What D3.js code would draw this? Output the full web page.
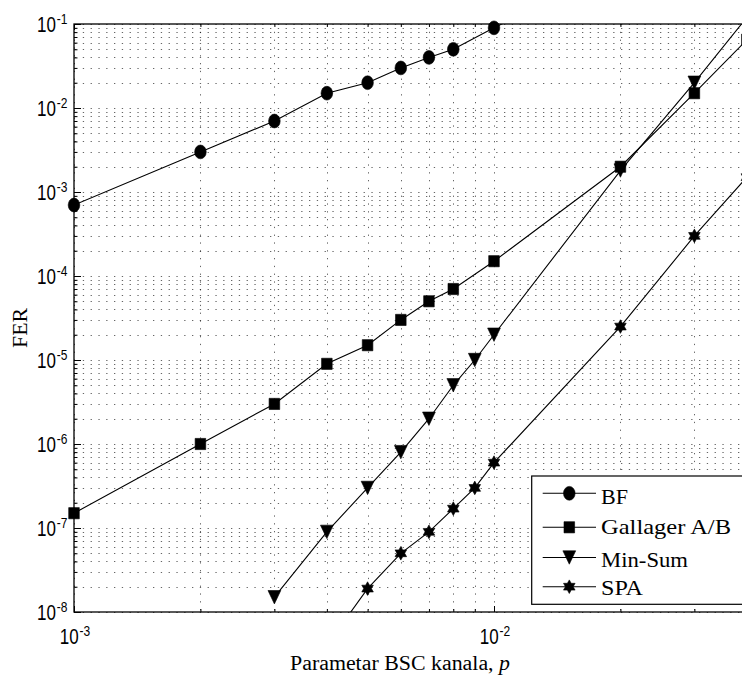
<!DOCTYPE html>
<html>
<head>
<meta charset="utf-8">
<script src="https://cdn.jsdelivr.net/npm/d3@7"></script>
<style>
  html, body { margin: 0; padding: 0; background: #fff; }
  svg { display: block; }
  .serif { font-family: "Liberation Serif", "DejaVu Serif", "Noto Serif", "Times New Roman", serif; }
  .sans { font-family: "Liberation Sans", Arial, Helvetica, sans-serif; }
</style>
</head>
<body>
<svg id="chart" width="742" height="680"></svg>
<script>
// Channel crossover probability p and frame error rate for each decoder
const pBF  = [0.001, 0.002, 0.003, 0.004, 0.005, 0.006, 0.007, 0.008, 0.01, 0.02];
const ferBF = [7e-4, 3e-3, 7e-3, 1.5e-2, 2e-2, 3e-2, 4e-2, 5e-2, 9e-2, 0.5];

const pGal  = [0.001, 0.002, 0.003, 0.004, 0.005, 0.006, 0.007, 0.008, 0.01, 0.02, 0.03, 0.04];
const ferGal = [1.5e-7, 1e-6, 3e-6, 9e-6, 1.5e-5, 3e-5, 5e-5, 7e-5, 1.5e-4, 2e-3, 1.5e-2, 6.5e-2];

const pMS  = [0.003, 0.004, 0.005, 0.006, 0.007, 0.008, 0.009, 0.01, 0.02, 0.03, 0.04];
const ferMS = [1.5e-8, 9e-8, 3e-7, 8e-7, 2e-6, 5e-6, 1e-5, 2e-5, 1.8e-3, 2e-2, 1.2e-1];

const pSPA  = [0.004, 0.005, 0.006, 0.007, 0.008, 0.009, 0.01, 0.02, 0.03, 0.04];
const ferSPA = [4e-9, 1.9e-8, 5e-8, 9e-8, 1.7e-7, 3e-7, 6e-7, 2.5e-5, 3e-4, 1.5e-3];

const seriesNames = ["BF", "Gallager A/B", "Min-Sum", "SPA"];
const seriesMarkers = ["circle", "square", "triangle", "hexagram"];

// Axis limits and decade exponents used for the tick labels
const xLimits = [1e-3, 4e-2];
const yLimits = [1e-8, 1e-1];
const xLabelExps = [-3, -2];
const yLabelExps = [-8, -7, -6, -5, -4, -3, -2, -1];

const xTitle = "Parametar BSC kanala, ";
const xTitleVar = "p";
const yTitle = "FER";

(function () {
const svg = d3.select("#chart");
const plotLeft = 74, plotTop = 24, plotBottom = 612;
const decadePx = 420;
const plotRight = plotLeft + decadePx * Math.log10(xLimits[1] / xLimits[0]);

const x = d3.scaleLog().domain(xLimits).range([plotLeft, plotRight]);
const y = d3.scaleLog().domain(yLimits).range([plotBottom, plotTop]);

svg.append("defs").append("clipPath").attr("id", "plotClip")
  .append("rect").attr("x", plotLeft).attr("y", plotTop)
  .attr("width", plotRight - plotLeft).attr("height", plotBottom - plotTop);

// Dotted grid at every major and minor tick
const xGrid = x.ticks();
const yGrid = y.ticks();
const grid = svg.append("g").attr("stroke", "#000").attr("stroke-width", 1)
  .attr("stroke-opacity", 0.6).attr("fill", "none");
grid.selectAll("line.h").data(yGrid).join("line").attr("class", "h")
  .attr("x1", plotLeft + 1).attr("x2", plotRight)
  .attr("y1", d => Math.round(y(d)) + 0.5).attr("y2", d => Math.round(y(d)) + 0.5)
  .attr("stroke-dasharray", "1.3,6.5");
grid.selectAll("line.v").data(xGrid).join("line").attr("class", "v")
  .attr("y1", plotTop).attr("y2", plotBottom)
  .attr("x1", d => Math.round(x(d)) + 0.5).attr("x2", d => Math.round(x(d)) + 0.5)
  .attr("stroke-dasharray", "1.3,6.5");

// Inward ticks on all framed sides
const isDecade = v => Math.abs(Math.log10(v) - Math.round(Math.log10(v))) < 1e-9;
function tickAxis(axisFn, scale, vals, size, transform) {
  svg.append("g").attr("transform", transform)
    .call(axisFn(scale).tickValues(vals).tickSize(size).tickSizeOuter(0).tickFormat(""))
    .call(g => g.select(".domain").remove())
    .call(g => g.selectAll("line").attr("stroke", "#000").attr("stroke-width", 1));
}
const yMajor = yGrid.filter(isDecade), yMinor = yGrid.filter(v => !isDecade(v));
const xMajor = xGrid.filter(isDecade), xMinor = xGrid.filter(v => !isDecade(v));
tickAxis(d3.axisLeft, y, yMajor, -7, `translate(${plotLeft},0)`);
tickAxis(d3.axisLeft, y, yMinor, -3.5, `translate(${plotLeft},0)`);
tickAxis(d3.axisBottom, x, xMajor, -6, `translate(0,${plotBottom})`);
tickAxis(d3.axisBottom, x, xMinor, -3, `translate(0,${plotBottom})`);
tickAxis(d3.axisTop, x, xMajor, -6, `translate(0,${plotTop})`);
tickAxis(d3.axisTop, x, xMinor, -3, `translate(0,${plotTop})`);

// Axes frame
svg.append("rect").attr("x", plotLeft).attr("y", plotTop)
  .attr("width", plotRight - plotLeft).attr("height", plotBottom - plotTop)
  .attr("fill", "none").attr("stroke", "#000").attr("stroke-width", 1.3);

// Power-of-ten tick labels
function powLabel(px, py, exp, anchor) {
  const sy = 1.27;
  const g = svg.append("g").attr("transform", `translate(${px},${py}) scale(1,${sy})`);
  const t = g.append("text").attr("class", "sans").attr("text-anchor", anchor)
    .style("font-size", "17px").attr("fill", "#000");
  t.append("tspan").text("10");
  t.append("tspan").attr("dy", -8 / sy).attr("dx", 1).style("font-size", "12px").text(String(exp));
}
yLabelExps.forEach(e => powLabel(67.5, y(Math.pow(10, e)) + 8, e, "end"));
xLabelExps.forEach(e => powLabel(x(Math.pow(10, e)) + 1, 644, e, "middle"));

// Serif text fitted to a set width
function fitWidth(sel, w) {
  sel.attr("textLength", w).attr("lengthAdjust", "spacingAndGlyphs");
}
const xt = svg.append("text").attr("class", "serif").attr("x", 400).attr("y", 670)
  .attr("text-anchor", "middle").style("font-size", "20px");
xt.append("tspan").text(xTitle);
xt.append("tspan").style("font-style", "italic").text(xTitleVar);
fitWidth(xt, 220);

const yt = svg.append("text").attr("class", "serif")
  .attr("transform", "translate(26.5,328) rotate(-90)")
  .attr("text-anchor", "middle").style("font-size", "20px")
  .text(yTitle);
fitWidth(yt, 40);

// Marker shapes
function markerPath(kind, cx, cy) {
  if (kind === "square") {
    const w = 5.3, h = 5.6;
    return `M${cx - w},${cy - h}H${cx + w}V${cy + h}H${cx - w}Z`;
  }
  if (kind === "triangle") {
    const w = 6.4, h = 6.7;
    return `M${cx - w},${cy - h}L${cx + w},${cy - h}L${cx},${cy + h}Z`;
  }
  if (kind === "hexagram") {
    const rx = 5.8, ry = 6.8, pts = [];
    for (let i = 0; i < 12; i++) {
      const a = -Math.PI / 2 + i * Math.PI / 6;
      const r = i % 2 === 0 ? 1 : 1 / Math.sqrt(3);
      pts.push([cx + rx * r * Math.cos(a) / Math.cos(Math.PI / 6), cy + ry * r * Math.sin(a)]);
    }
    return "M" + pts.map(p => p.join(",")).join("L") + "Z";
  }
  // circle (drawn slightly taller than wide)
  const rx = 5.8, ry = 6.9;
  return `M${cx - rx},${cy}A${rx},${ry} 0 1,0 ${cx + rx},${cy}A${rx},${ry} 0 1,0 ${cx - rx},${cy}Z`;
}

const series = [
  { p: pBF, f: ferBF },
  { p: pGal, f: ferGal },
  { p: pMS, f: ferMS },
  { p: pSPA, f: ferSPA }
];

const lineGen = d3.line().x(d => x(d[0])).y(d => y(d[1]));
const plot = svg.append("g");
series.forEach((s, i) => {
  const pts = s.p.map((p, j) => [p, s.f[j]]);
  plot.append("path").attr("d", lineGen(pts)).attr("clip-path", "url(#plotClip)")
    .attr("fill", "none").attr("stroke", "#000").attr("stroke-width", 1.1);
  const inside = pts.filter(d => d[1] >= yLimits[0] && d[1] <= yLimits[1]);
  plot.selectAll(null).data(inside).join("path")
    .attr("d", d => markerPath(seriesMarkers[i], x(d[0]), y(d[1])))
    .attr("fill", "#000").attr("stroke", "#000").attr("stroke-width", 0.6);
});

// Legend
const legendLineY = [493.3, 527.3, 557.5, 586.7];
const legendBase = [503.5, 533.8, 566.5, 595];
const legendWidth = [27, 130, 87, 42];
const lg = svg.append("g");
lg.append("rect").attr("x", 531.7).attr("y", 476).attr("width", 260).attr("height", 128.3)
  .attr("fill", "#fff").attr("stroke", "#000").attr("stroke-width", 1.2);
seriesNames.forEach((name, i) => {
  lg.append("line").attr("x1", 542.7).attr("x2", 596)
    .attr("y1", legendLineY[i]).attr("y2", legendLineY[i])
    .attr("stroke", "#000").attr("stroke-width", 1.1);
  lg.append("path").attr("d", markerPath(seriesMarkers[i], 569.3, legendLineY[i]))
    .attr("fill", "#000").attr("stroke", "#000").attr("stroke-width", 0.6);
  const t = lg.append("text").attr("class", "serif").attr("x", 601).attr("y", legendBase[i])
    .style("font-size", "21px").text(name);
  fitWidth(t, legendWidth[i]);
});
})();
</script>
</body>
</html>
